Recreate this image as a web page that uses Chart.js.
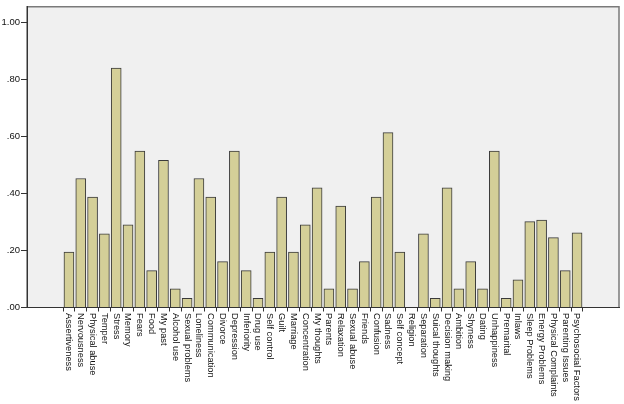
<!DOCTYPE html>
<html>
<head>
<meta charset="utf-8">
<script src="https://cdn.jsdelivr.net/npm/chart.js@4/dist/chart.umd.min.js"></script>
<style>
  html, body { margin: 0; padding: 0; background: #fff; }
  #wrap { width: 624px; height: 404px; }
</style>
</head>
<body>
<div id="wrap"><canvas id="chart" width="624" height="404"></canvas></div>
<script>
const categories = [
  'Assertiveness', 'Nervousness', 'Physical abuse', 'Temper', 'Stress', 'Memory',
  'Fears', 'Food', 'My past', 'Alcohol use', 'Sexual problems', 'Loneliness',
  'Communication', 'Divorce', 'Depression', 'Inferiority', 'Drug use', 'Self control',
  'Guilt', 'Marriage', 'Concentration', 'My thoughts', 'Parents', 'Relaxation',
  'Sexual abuse', 'Friends', 'Confusion', 'Sadness', 'Self concept', 'Religion',
  'Separation', 'Suical thoughts', 'Decision making', 'Ambition', 'Shyness', 'Dating',
  'Unhappiness', 'Premarital', 'Inlaws', 'Sleep Problems', 'Energy Problems',
  'Physical Complaints', 'Parenting Issues', 'Psychosocial Factors'
]

const means = [
  0.194, 0.452, 0.387, 0.258, 0.839, 0.290,
  0.548, 0.129, 0.516, 0.065, 0.032, 0.452,
  0.387, 0.161, 0.548, 0.129, 0.032, 0.194,
  0.387, 0.194, 0.290, 0.419, 0.065, 0.355,
  0.065, 0.161, 0.387, 0.613, 0.194, 0.000,
  0.258, 0.032, 0.419, 0.065, 0.161, 0.065,
  0.548, 0.032, 0.097, 0.301, 0.306,
  0.245, 0.129, 0.262
]

const yTicks = [0, 0.2, 0.4, 0.6, 0.8, 1.0]

const FONT = '"Liberation Sans", Arial, sans-serif'

// plot background and frame (SPSS style)
const frame = {
  id: 'frame',
  beforeDraw(chart) {
    const { ctx, chartArea: a } = chart
    ctx.save()
    ctx.fillStyle = '#f0f0f0'
    ctx.fillRect(a.left, a.top, a.right - a.left, a.bottom - a.top)
    ctx.strokeStyle = '#7a7a7a'
    ctx.lineWidth = 1.5
    ctx.beginPath()
    ctx.moveTo(a.left, a.bottom)
    ctx.lineTo(a.left, a.top)
    ctx.lineTo(a.right, a.top)
    ctx.lineTo(a.right, a.bottom)
    ctx.stroke()
    ctx.restore()
  }
}

// category names, rotated clockwise so they read top to bottom
const xLabels = {
  id: 'xLabels',
  afterDraw(chart) {
    const { ctx } = chart
    const x = chart.scales.x
    ctx.save()
    ctx.font = '9.3px ' + FONT
    ctx.fillStyle = '#111'
    ctx.textAlign = 'left'
    ctx.textBaseline = 'middle'
    categories.forEach((name, i) => {
      ctx.save()
      ctx.translate(x.getPixelForValue(i), x.top + 5.5)
      ctx.rotate(Math.PI / 2)
      ctx.fillText(name, 0, 0)
      ctx.restore()
    })
    ctx.restore()
  }
}

const chart = new Chart(document.getElementById('chart'), {
  type: 'bar',
  data: {
    datasets: [{
      data: means.map((v, i) => ({ x: i, y: v })),
      backgroundColor: '#d4cf98',
      borderColor: '#3a3a3a',
      borderWidth: 1,
      barThickness: 10
    }]
  },
  options: {
    responsive: false,
    animation: false,
    layout: {
      padding: { top: 5, right: 5, left: 0, bottom: 0 }
    },
    plugins: {
      legend: { display: false },
      tooltip: { enabled: false }
    },
    scales: {
      x: {
        type: 'linear',
        min: -2.98,
        max: categories.length - 1 + 2.98,
        afterBuildTicks: (scale) => {
          scale.ticks = categories.map((c, i) => ({ value: i }))
        },
        afterFit: (scale) => { scale.height = 96.5 },
        grid: {
          display: true,
          drawOnChartArea: false,
          drawTicks: true,
          tickLength: 4,
          color: '#333'
        },
        border: { display: true, color: '#333', width: 1 },
        ticks: { display: false }
      },
      y: {
        min: 0,
        max: 1.054,
        afterBuildTicks: (scale) => {
          scale.ticks = yTicks.map(v => ({ value: v }))
        },
        afterFit: (scale) => { scale.width = 27 },
        grid: {
          display: true,
          drawOnChartArea: false,
          drawTicks: true,
          tickLength: 6,
          color: '#333'
        },
        border: { display: true, color: '#333', width: 1 },
        ticks: {
          padding: 1,
          color: '#111',
          font: { family: FONT, size: 9.5 },
          callback: (v) => v.toFixed(2).replace(/^0/, '')
        }
      }
    }
  },
  plugins: [frame, xLabels]
})
</script>
</body>
</html>
